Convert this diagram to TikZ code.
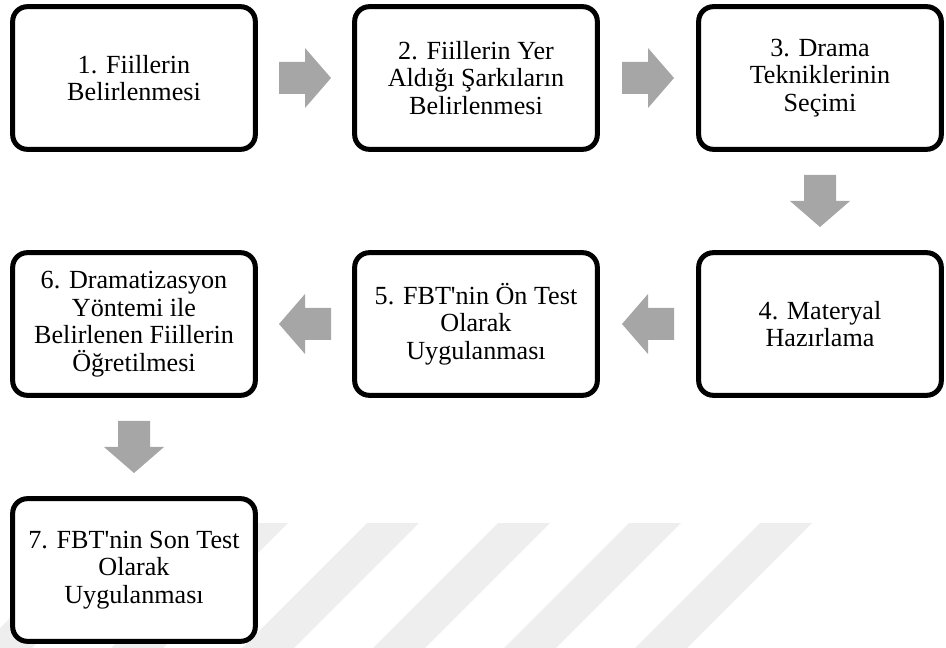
\documentclass[tikz,border=0pt]{standalone}
\usepackage{fontspec}
\newfontfamily\boxfont{Liberation Serif}
\usetikzlibrary{calc}

\definecolor{arrowgray}{RGB}{166,166,166}
\definecolor{markgray}{RGB}{238,238,238}

\tikzset{
  stepbox/.style={draw=black, line width=3.75pt, rounded corners=11pt, fill=white,
    minimum width=182pt, minimum height=107pt, align=center, inner sep=0pt,
    font=\boxfont\fontsize{19.6}{20.6}\selectfont},
}

% gray block arrow half way between two anchors
\newcommand{\flowarrow}[3]{%
  \begin{scope}[shift={($(#1)!0.5!(#2)$)}, rotate=#3]
    \fill[arrowgray] (-26,-16) -- (0,-16) -- (0,-30) -- (26,0) -- (0,30) -- (0,16) -- (-26,16) -- cycle;
  \end{scope}}

\begin{document}
\begin{tikzpicture}[x=0.75pt, y=0.75pt]
    \useasboundingbox (0,0) rectangle (946,-648);

    %%% Watermark stripes %%%
    \foreach \k in {0,...,5} {
        \fill[markgray] ({105+131*\k},-523) -- ({157+131*\k},-523) -- ({32+131*\k},-648) -- ({-20+131*\k},-648) -- cycle;
    }

    %%% Steps %%%
    % Row 1
    \node[stepbox] (s1) at (134,-78) {1. Fiillerin\\Belirlenmesi};
    \node[stepbox] (s2) at (476,-78) {2. Fiillerin Yer\\Aldığı Şarkıların\\Belirlenmesi};
    \node[stepbox] (s3) at (820,-78) {3. Drama\\Tekniklerinin\\Seçimi};
    % Row 2
    \node[stepbox] (s4) at (820,-324) {4. Materyal\\Hazırlama};
    \node[stepbox] (s5) at (476,-324) {5. FBT'nin Ön Test\\Olarak\\Uygulanması};
    \node[stepbox] (s6) at (134,-324) {6. Dramatizasyon\\Yöntemi ile\\Belirlenen Fiillerin\\Öğretilmesi};
    % Row 3
    \node[stepbox] (s7) at (134,-570) {7. FBT'nin Son Test\\Olarak\\Uygulanması};

    %%% Arrows %%%
    \flowarrow{s1.east}{s2.west}{0}
    \flowarrow{s2.east}{s3.west}{0}
    \flowarrow{s3.south}{s4.north}{-90}
    \flowarrow{s4.west}{s5.east}{180}
    \flowarrow{s5.west}{s6.east}{180}
    \flowarrow{s6.south}{s7.north}{-90}
\end{tikzpicture}
\end{document}
